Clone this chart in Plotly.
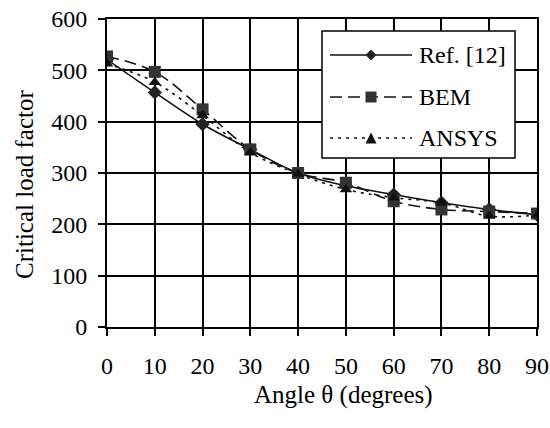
import plotly.graph_objects as go

angles = [0, 10, 20, 30, 40, 50, 60, 70, 80, 90]
ref12 = [521, 457, 395, 346, 300, 275, 258, 242, 229, 219]
bem = [527, 497, 424, 346, 300, 281, 245, 229, 225, 221]
ansys = [513, 477, 412, 340, 298, 268, 252, 242, 216, 218]

series_names = ["Ref. [12]", "BEM", "ANSYS"]
x_ticks = [0, 10, 20, 30, 40, 50, 60, 70, 80, 90]
y_ticks = [0, 100, 200, 300, 400, 500, 600]
x_title = "Angle θ (degrees)"
y_title = "Critical load factor"

font_family = "Liberation Serif"

W, H = 550, 428
L, R, T, B = 107, 13, 19, 101
PW, PH = W - L - R, H - T - B


def xp(px):
    return (px - L) / PW


def yp(py):
    return (H - B - py) / PH


styles = [
    dict(dash="solid", symbol="diamond", msize=11, mcolor="#222"),
    dict(dash="12px,6px", symbol="square", msize=12, mcolor="#333"),
    dict(dash="3px,5px", symbol="triangle-up", msize=11, mcolor="#111"),
]

fig = go.Figure()
for name, ys, st in zip(series_names, [ref12, bem, ansys], styles):
    fig.add_trace(go.Scatter(
        x=angles, y=ys, name=name, mode="lines+markers", showlegend=False,
        line=dict(color="#111", width=1.6, dash=st["dash"], shape="spline", smoothing=1.0),
        marker=dict(symbol=st["symbol"], size=st["msize"], color=st["mcolor"],
                    line=dict(width=0))))

# custom legend (box, line samples, symbols, labels)
shapes = []
annotations = []
shapes.append(dict(type="rect", xref="paper", yref="paper",
                   x0=xp(322), x1=xp(515), y0=yp(31), y1=yp(158),
                   fillcolor="white", line=dict(color="black", width=1.5), layer="above"))
entry_y = [55, 97, 138]
for name, st, ey in zip(series_names, styles, entry_y):
    shapes.append(dict(type="line", xref="paper", yref="paper",
                       x0=xp(330), x1=xp(412), y0=yp(ey), y1=yp(ey),
                       line=dict(color="#111", width=1.6, dash=st["dash"]), layer="above"))
    cx, s = 371, 5.5
    if st["symbol"] == "diamond":
        path = f"M{xp(cx-s)},{yp(ey)} L{xp(cx)},{yp(ey-s)} L{xp(cx+s)},{yp(ey)} L{xp(cx)},{yp(ey+s)} Z"
    elif st["symbol"] == "square":
        path = f"M{xp(cx-s)},{yp(ey-s)} L{xp(cx+s)},{yp(ey-s)} L{xp(cx+s)},{yp(ey+s)} L{xp(cx-s)},{yp(ey+s)} Z"
    else:
        path = f"M{xp(cx-s)},{yp(ey+s)} L{xp(cx)},{yp(ey-s)} L{xp(cx+s)},{yp(ey+s)} Z"
    shapes.append(dict(type="path", xref="paper", yref="paper", path=path,
                       fillcolor=st["mcolor"], line=dict(width=0), layer="above"))
    annotations.append(dict(xref="paper", yref="paper", x=xp(417), y=yp(ey),
                            xanchor="left", yanchor="middle", text=name, showarrow=False,
                            font=dict(family=font_family, size=24, color="black")))

# axis titles
annotations.append(dict(xref="paper", yref="paper", x=xp(343), y=yp(395),
                        xanchor="center", yanchor="middle", text=x_title, showarrow=False,
                        font=dict(family=font_family, size=25, color="black")))
annotations.append(dict(xref="paper", yref="paper", x=xp(24), y=yp(185),
                        xanchor="center", yanchor="middle", text=y_title, showarrow=False,
                        textangle=-90,
                        font=dict(family=font_family, size=25, color="black")))

axis_common = dict(showgrid=True, gridcolor="black", gridwidth=1.5,
                   showline=True, linecolor="black", linewidth=2, mirror=True,
                   ticks="outside", ticklen=7, tickwidth=1.5, tickcolor="black", zeroline=False,
                   automargin=False, ticklabeloverflow="allow",
                   tickfont=dict(family=font_family, size=24, color="black"))

fig.update_layout(
    width=W, height=H,
    margin=dict(l=L, r=R, t=T, b=B),
    paper_bgcolor="white", plot_bgcolor="white",
    font=dict(family=font_family, size=24, color="black"),
    xaxis=dict(range=[0, 90], tickvals=x_ticks, ticklabelstandoff=9, **axis_common),
    yaxis=dict(range=[0, 600], tickvals=y_ticks, ticklabelstandoff=6, **axis_common),
    shapes=shapes,
    annotations=annotations,
    showlegend=False,
)

fig.write_html("out.html",
               config={"displayModeBar": False},
               post_script="document.body.style.margin='0';document.body.style.padding='0';")
